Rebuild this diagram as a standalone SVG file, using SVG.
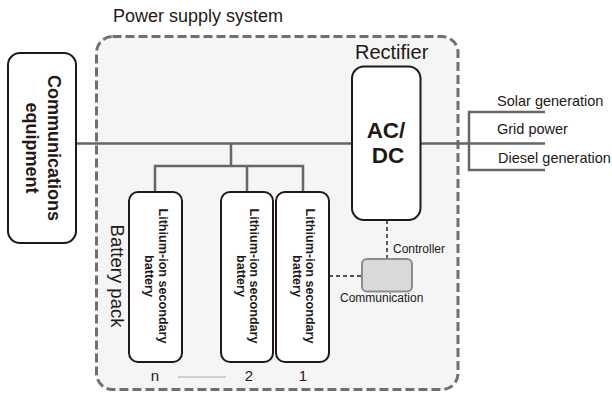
<svg xmlns="http://www.w3.org/2000/svg" width="612" height="394" viewBox="0 0 612 394">
<style>
text{font-family:"Liberation Sans",Arial,sans-serif;fill:#231815}
.b{font-weight:bold}
.box{fill:#fff;stroke:#231815;stroke-width:2}
.wire{fill:none;stroke:#666;stroke-width:2.5}
.dash{fill:none;stroke:#231815;stroke-width:1.4;stroke-dasharray:4 3}
.bat{font-size:12.6px;font-weight:bold;text-anchor:middle}
</style>
<rect width="612" height="394" fill="#fff"/>
<g id="power-supply-system">
<rect x="96.5" y="36.5" width="361.5" height="353" rx="16" fill="#f5f5f5" stroke="#707070" stroke-width="3" stroke-dasharray="9 4"/>
<text x="113" y="22" font-size="18" fill="#333">Power supply system</text>
<text transform="translate(111,276) rotate(90)" font-size="18.5" text-anchor="middle">Battery pack</text>
</g>
<g id="connectors">
<path class="wire" d="M76,143.5H352M420,143.5H545M545,112H469V170H545"/>
<path class="wire" d="M231,143.5V166M155,192V166H303V192M247,166V192"/>
<path class="dash" d="M329,276H362M387,220V259"/>
<path d="M178,377H226" stroke="#999" stroke-width="0.8"/>
</g>
<g id="communications-equipment">
<rect class="box" x="8" y="53" width="68" height="190" rx="12"/>
<text class="b" transform="translate(47.5,148) rotate(90)" font-size="18" text-anchor="middle">Communications</text>
<text class="b" transform="translate(26,148) rotate(90)" font-size="18" text-anchor="middle">equipment</text>
</g>
<g id="rectifier">
<rect class="box" x="352" y="66.5" width="68.5" height="153.5" rx="12"/>
<text x="355" y="59" font-size="20">Rectifier</text>
<text class="b" x="386" y="138" font-size="22.5" text-anchor="middle">AC/</text>
<text class="b" x="388" y="163" font-size="22.5" text-anchor="middle">DC</text>
</g>
<g id="sources">
<text x="497" y="106" font-size="14.5">Solar generation</text>
<text x="497" y="134" font-size="14.5">Grid power</text>
<text x="498" y="163" font-size="14.5">Diesel generation</text>
</g>
<g id="battery-n">
<rect class="box" x="129" y="192" width="53" height="170" rx="9"/>
<text class="bat" transform="translate(158.5,276) rotate(90)">Lithium-ion secondary</text>
<text class="bat" transform="translate(145,276) rotate(90)">battery</text>
<text x="155" y="381" font-size="15" text-anchor="middle">n</text>
</g>
<g id="battery-2">
<rect class="box" x="221" y="192" width="52" height="170" rx="9"/>
<text class="bat" transform="translate(250,276) rotate(90)">Lithium-ion secondary</text>
<text class="bat" transform="translate(236.5,276) rotate(90)">battery</text>
<text x="249" y="381" font-size="15" text-anchor="middle">2</text>
</g>
<g id="battery-1">
<rect class="box" x="276" y="192" width="53" height="170" rx="9"/>
<text class="bat" transform="translate(306,276) rotate(90)">Lithium-ion secondary</text>
<text class="bat" transform="translate(292.5,276) rotate(90)">battery</text>
<text x="303" y="381" font-size="15" text-anchor="middle">1</text>
</g>
<g id="communication">
<rect x="362" y="259" width="50" height="32.5" rx="5" fill="#d9d9d9" stroke="#8c8c8c" stroke-width="2"/>
<text x="393" y="253" font-size="12">Controller</text>
<text x="340" y="302" font-size="12">Communication</text>
</g>
</svg>
